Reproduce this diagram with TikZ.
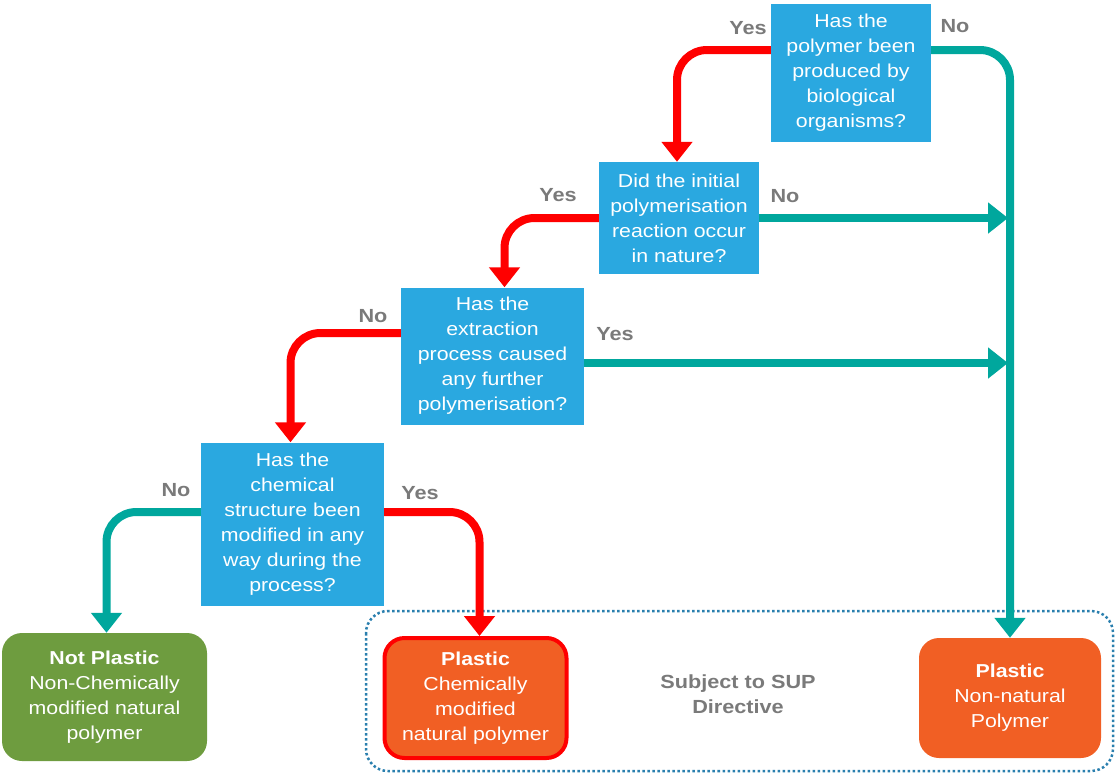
\documentclass[tikz,border=0pt]{standalone}
\usepackage{fontspec}
\setmainfont{Liberation Sans}[FakeStretch=1.14]
\usetikzlibrary{arrows.meta}
\definecolor{qblue}{HTML}{2AA8E0}
\definecolor{tealc}{HTML}{00A79D}
\definecolor{redc}{HTML}{FF0000}
\definecolor{orangec}{HTML}{F15F24}
\definecolor{greenc}{HTML}{6E9C3F}
\definecolor{grayc}{HTML}{7A7A7A}
\definecolor{dotc}{HTML}{2A7FAE}
\begin{document}
\begin{tikzpicture}[x=1pt,y=-1pt,
  qbox/.style={fill=qblue,text=white,align=center,inner sep=0pt,
    font=\fontsize{18.7}{25}\selectfont},
  endbox/.style={text=white,align=center,inner sep=0pt,rounded corners=20pt,
    font=\fontsize{18.7}{25}\selectfont},
  conn/.style={line width=8pt,rounded corners=30pt,
    -{Triangle[width=30pt,length=20pt]}},
  yesred/.style={conn,draw=redc},
  noteal/.style={conn,draw=tealc},
  lbl/.style={text=grayc,font=\fontsize{19}{22}\selectfont\bfseries,inner sep=0pt}]
\useasboundingbox (0,0) rectangle (1117,774);
% dotted region
\draw[dotc,line width=2.5pt,dash pattern=on 2.5pt off 2.5pt,rounded corners=22pt]
  (366,611) rectangle (1113,771);
\node[lbl,align=center,font=\fontsize{19}{25}\selectfont\bfseries] (sup) at (738,694) {Subject to SUP\\Directive};
% question boxes
\node[qbox,minimum width=160pt,minimum height=138pt] (q1) at (851,73)
  {Has the\\polymer been\\produced by\\biological\\organisms?};
\node[qbox,minimum width=160pt,minimum height=112pt] (q2) at (679,218)
  {Did the initial\\polymerisation\\reaction occur\\in nature?};
\node[qbox,minimum width=183pt,minimum height=137pt] (q3) at (492.5,356)
  {Has the\\extraction\\process caused\\any further\\polymerisation?};
\node[qbox,minimum width=183pt,minimum height=163pt] (q4) at (292.5,524)
  {Has the\\chemical\\structure been\\modified in any\\way during the\\process?};
% end boxes
\node[endbox,fill=greenc,minimum width=205pt,minimum height=128pt] (np) at (104.5,697)
  {\textbf{Not Plastic}\\Non-Chemically\\modified natural\\polymer};
\node[endbox,fill=orangec,draw=redc,line width=4pt,minimum width=182pt,minimum height=120pt] (pc) at (475.5,698)
  {\textbf{Plastic}\\Chemically\\modified\\natural polymer};
\node[endbox,fill=orangec,minimum width=182pt,minimum height=120pt] (pn) at (1010,698)
  {\textbf{Plastic}\\Non-natural\\Polymer};
% junction coordinates on the vertical teal line
\coordinate (j2) at (1008,218);
\coordinate (j3) at (1008,363);
% connectors
\draw[noteal] (q1.east |- 0,50) -| (pn.north);
\draw[yesred] (q1.west |- 0,50) -| ([xshift=-2pt]q2.north);
\draw[noteal] (q2.east |- 0,218) -- (j2);
\draw[yesred] (q2.west |- 0,218) -| ([xshift=12pt]q3.north);
\draw[noteal] (q3.east |- 0,363) -- (j3);
\draw[yesred] (q3.west |- 0,333) -| ([xshift=-2pt]q4.north);
\draw[noteal] (q4.west |- 0,512) -| ([xshift=2pt]np.north);
\draw[yesred] (q4.east |- 0,512) -| ([xshift=4pt]pc.north);
% labels
\node[lbl] (l1) at (748,28) {Yes};
\node[lbl] (l2) at (955,26) {No};
\node[lbl] (l3) at (558,195) {Yes};
\node[lbl] (l4) at (785,196) {No};
\node[lbl] (l5) at (373,316) {No};
\node[lbl] (l6) at (615,334) {Yes};
\node[lbl] (l7) at (176,490) {No};
\node[lbl] (l8) at (420,493) {Yes};
\end{tikzpicture}
\end{document}
